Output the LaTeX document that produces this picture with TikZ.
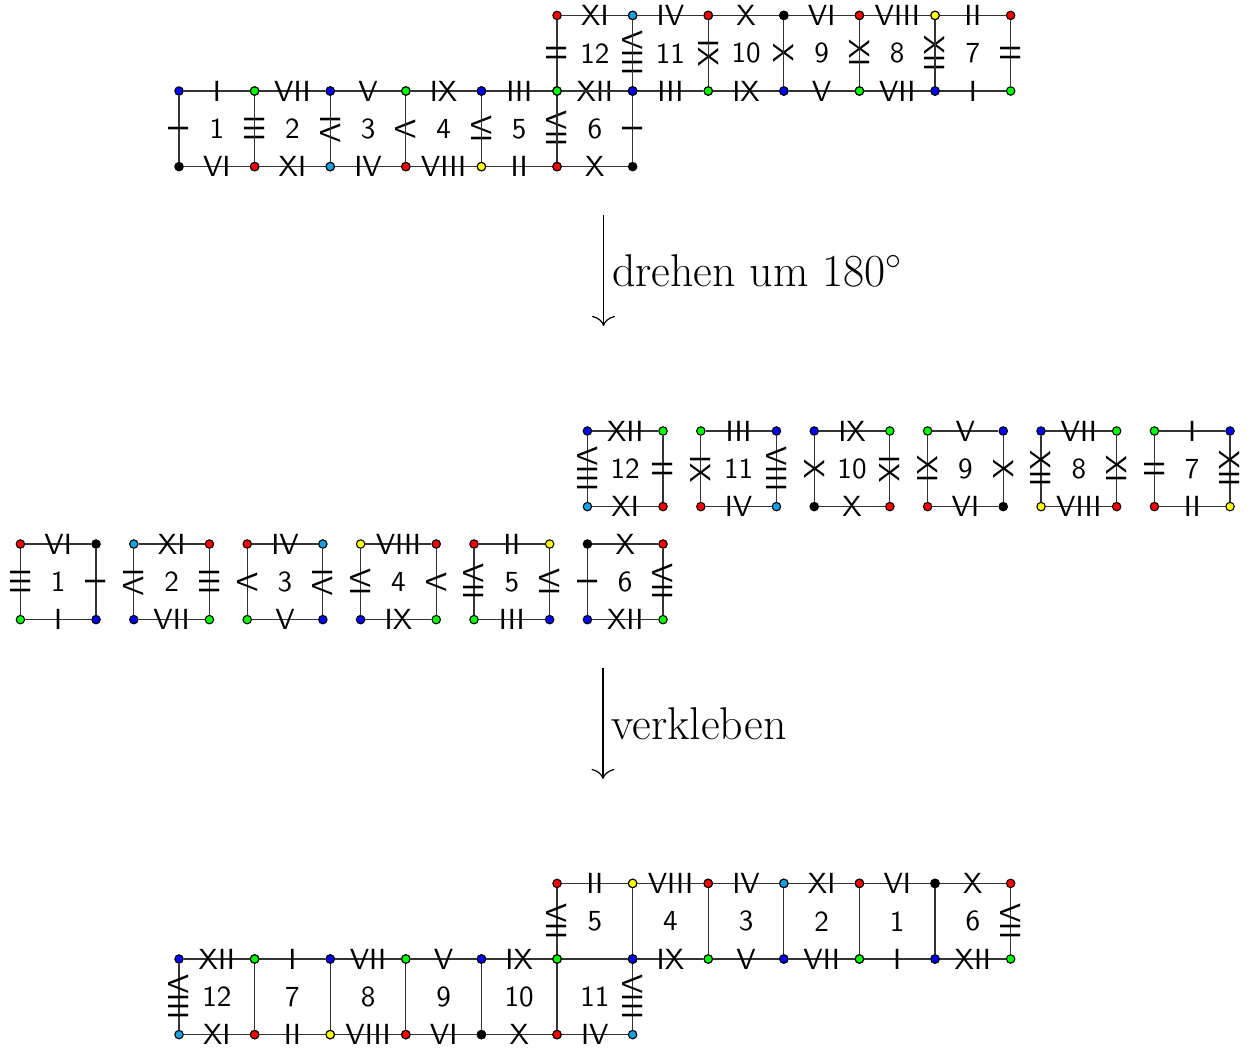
\documentclass[tikz,border=0pt]{standalone}
\usetikzlibrary{arrows.meta}
\definecolor{cB}{RGB}{0,0,255}
\definecolor{cG}{RGB}{0,255,0}
\definecolor{cR}{RGB}{255,0,0}
\definecolor{cC}{RGB}{25,160,225}
\definecolor{cY}{RGB}{255,255,0}
\definecolor{cK}{RGB}{0,0,0}
\tikzset{
  dot/.style={circle,draw=black,line width=0.4pt,minimum size=0.112cm,inner sep=0pt},
  edge/.style={draw=black!80,line width=0.45pt},
  hl/.style={inner sep=0pt,font=\fontsize{10.95}{13}\sffamily},
  vl/.style={hl,rotate=-90},
  num/.style={inner sep=0pt,font=\fontsize{10.95}{13}\sffamily},
  bigtext/.style={font=\fontsize{17.28}{21}\selectfont,inner xsep=3pt,inner ysep=0pt},
  bigarrow/.style={line width=0.45pt,-{To[length=3.8pt,width=8.6pt]}},
}
% #1 name, #2 x, #3 y (top-left corner), #4 number, #5..#8 colours TL TR BR BL
\newcommand\cellbox[8]{%
  \node[dot,fill=#5] (#1tl) at (#2,#3) {};
  \node[dot,fill=#6] (#1tr) at (#2+1,#3) {};
  \node[dot,fill=#7] (#1br) at (#2+1,#3-1) {};
  \node[dot,fill=#8] (#1bl) at (#2,#3-1) {};
  \node[num] (#1n) at (#2+0.5,#3-0.5) {#4};
}
% #1 name, labels: #2 top, #3 right, #4 bottom, #5 left
\newcommand\celledges[5]{%
  \draw[edge] (#1tl) -- node[hl]{#2} (#1tr);
  \draw[edge] (#1tr) -- node[vl]{#3} (#1br);
  \draw[edge] (#1br) -- node[hl]{#4} (#1bl);
  \draw[edge] (#1bl) -- node[vl]{#5} (#1tl);
}
\begin{document}
\begin{tikzpicture}
\useasboundingbox (0,0) rectangle (16.587,-13.889);
% ---------- top: original net ----------
\cellbox{T1}{2.368}{-1.204}{1}{cB}{cG}{cR}{cK}
\cellbox{T2}{3.368}{-1.204}{2}{cG}{cB}{cC}{cR}
\cellbox{T3}{4.368}{-1.204}{3}{cB}{cG}{cR}{cC}
\cellbox{T4}{5.368}{-1.204}{4}{cG}{cB}{cY}{cR}
\cellbox{T5}{6.368}{-1.204}{5}{cB}{cG}{cR}{cY}
\cellbox{T6}{7.368}{-1.204}{6}{cG}{cB}{cK}{cR}
\cellbox{T12}{7.368}{-0.204}{12}{cR}{cC}{cB}{cG}
\cellbox{T11}{8.368}{-0.204}{11}{cC}{cR}{cG}{cB}
\cellbox{T10}{9.368}{-0.204}{10}{cR}{cK}{cB}{cG}
\cellbox{T9}{10.368}{-0.204}{9}{cK}{cR}{cG}{cB}
\cellbox{T8}{11.368}{-0.204}{8}{cR}{cY}{cB}{cG}
\cellbox{T7}{12.368}{-0.204}{7}{cY}{cR}{cG}{cB}
\celledges{T1}{I}{III}{VI}{I}
\celledges{T2}{VII}{IV}{XI}{}
\celledges{T3}{V}{V}{IV}{}
\celledges{T4}{IX}{VI}{VIII}{}
\celledges{T5}{III}{VII}{II}{}
\celledges{T6}{XII}{I}{X}{}
\celledges{T12}{XI}{VIII}{}{II}
\celledges{T11}{IV}{IX}{III}{}
\celledges{T10}{X}{X}{IX}{}
\celledges{T9}{VI}{XI}{V}{}
\celledges{T8}{VIII}{XII}{VII}{}
\celledges{T7}{II}{II}{I}{}
% ---------- arrow 1 ----------
\coordinate (a1s) at (7.983,-2.844);
\coordinate (a1e) at (7.983,-4.312);
\draw[bigarrow] (a1s) -- node[bigtext,right]{drehen um 180$^\circ$} (a1e);
% ---------- middle: rotated squares ----------
\cellbox{M12}{7.77}{-5.701}{12}{cB}{cG}{cR}{cC}
\cellbox{M11}{9.27}{-5.701}{11}{cG}{cB}{cC}{cR}
\cellbox{M10}{10.77}{-5.701}{10}{cB}{cG}{cR}{cK}
\cellbox{M9}{12.27}{-5.701}{9}{cG}{cB}{cK}{cR}
\cellbox{M8}{13.77}{-5.701}{8}{cB}{cG}{cR}{cY}
\cellbox{M7}{15.27}{-5.701}{7}{cG}{cB}{cY}{cR}
\cellbox{M1}{0.27}{-7.196}{1}{cR}{cK}{cB}{cG}
\cellbox{M2}{1.77}{-7.196}{2}{cC}{cR}{cG}{cB}
\cellbox{M3}{3.27}{-7.196}{3}{cR}{cC}{cB}{cG}
\cellbox{M4}{4.77}{-7.196}{4}{cY}{cR}{cG}{cB}
\cellbox{M5}{6.27}{-7.196}{5}{cR}{cY}{cB}{cG}
\cellbox{M6}{7.77}{-7.196}{6}{cK}{cR}{cG}{cB}
\celledges{M12}{XII}{II}{XI}{VIII}
\celledges{M11}{III}{VIII}{IV}{IX}
\celledges{M10}{IX}{IX}{X}{X}
\celledges{M9}{V}{X}{VI}{XI}
\celledges{M8}{VII}{XI}{VIII}{XII}
\celledges{M7}{I}{XII}{II}{II}
\celledges{M1}{VI}{I}{I}{III}
\celledges{M2}{XI}{III}{VII}{IV}
\celledges{M3}{IV}{IV}{V}{V}
\celledges{M4}{VIII}{V}{IX}{VI}
\celledges{M5}{II}{VI}{III}{VII}
\celledges{M6}{X}{VII}{XII}{I}
% ---------- arrow 2 ----------
\coordinate (a2s) at (7.976,-8.836);
\coordinate (a2e) at (7.976,-10.304);
\draw[bigarrow] (a2s) -- node[bigtext,right]{verkleben} (a2e);
% ---------- bottom: glued net ----------
\cellbox{G12}{2.368}{-12.685}{12}{cB}{cG}{cR}{cC}
\cellbox{G7}{3.368}{-12.685}{7}{cG}{cB}{cY}{cR}
\cellbox{G8}{4.368}{-12.685}{8}{cB}{cG}{cR}{cY}
\cellbox{G9}{5.368}{-12.685}{9}{cG}{cB}{cK}{cR}
\cellbox{G10}{6.368}{-12.685}{10}{cB}{cG}{cR}{cK}
\cellbox{G11}{7.368}{-12.685}{11}{cG}{cB}{cC}{cR}
\cellbox{G5}{7.368}{-11.685}{5}{cR}{cY}{cB}{cG}
\cellbox{G4}{8.368}{-11.685}{4}{cY}{cR}{cG}{cB}
\cellbox{G3}{9.368}{-11.685}{3}{cR}{cC}{cB}{cG}
\cellbox{G2}{10.368}{-11.685}{2}{cC}{cR}{cG}{cB}
\cellbox{G1}{11.368}{-11.685}{1}{cR}{cK}{cB}{cG}
\cellbox{G6}{12.368}{-11.685}{6}{cK}{cR}{cG}{cB}
\celledges{G12}{XII}{}{XI}{VIII}
\celledges{G7}{I}{}{II}{}
\celledges{G8}{VII}{}{VIII}{}
\celledges{G9}{V}{}{VI}{}
\celledges{G10}{IX}{}{X}{}
\celledges{G11}{}{VIII}{IV}{}
\celledges{G5}{II}{}{}{VII}
\celledges{G4}{VIII}{}{IX}{}
\celledges{G3}{IV}{}{V}{}
\celledges{G2}{XI}{}{VII}{}
\celledges{G1}{VI}{}{I}{}
\celledges{G6}{X}{VII}{XII}{}
\end{tikzpicture}
\end{document}
